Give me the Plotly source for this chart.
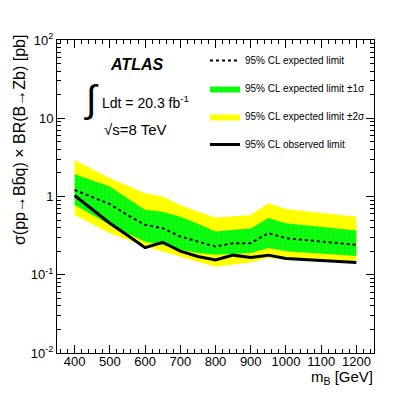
import plotly.graph_objects as go

# limits (pb)
mass = [400, 500, 550, 600, 650, 700, 750, 800, 850, 900, 950, 1000, 1200]
observed = [1.03, 0.456, 0.32, 0.222, 0.26, 0.20, 0.171, 0.155, 0.178, 0.166, 0.178, 0.161, 0.143]
expected = [1.21, 0.80, 0.58, 0.434, 0.394, 0.308, 0.265, 0.229, 0.253, 0.253, 0.34, 0.293, 0.241]
sig1_up = [1.93, 1.34, 0.95, 0.675, 0.64, 0.55, 0.45, 0.356, 0.375, 0.39, 0.53, 0.456, 0.367]
sig1_dn = [0.78, 0.434, 0.34, 0.265, 0.24, 0.208, 0.19, 0.18, 0.185, 0.19, 0.22, 0.20, 0.174]
sig2_up = [2.93, 1.71, 1.38, 1.10, 1.0, 0.78, 0.64, 0.54, 0.56, 0.58, 0.82, 0.69, 0.55]
sig2_dn = [0.58, 0.34, 0.28, 0.229, 0.20, 0.171, 0.147, 0.127, 0.135, 0.143, 0.165, 0.155, 0.147]

FONT = "Liberation Sans, Arial, sans-serif"

# plot area in page pixels: x 57-374, y 40-353 (page body has an 8px margin)
def px(x, y):
    return (x - 57) / 317, (353 - y) / 313

fig = go.Figure()

fig.add_trace(go.Scatter(
    x=mass + mass[::-1], y=sig2_up + sig2_dn[::-1],
    fill="toself", fillcolor="#ffff00", mode="lines", line=dict(width=0, color="#ffff00"),
    name="95% CL expected limit ±2σ", legendgroup="c", legendrank=3,
))
fig.add_trace(go.Scatter(
    x=mass + mass[::-1], y=sig1_up + sig1_dn[::-1],
    fill="toself", fillcolor="#00ff00", mode="lines", line=dict(width=0, color="#00ff00"),
    fillpattern=dict(shape=".", bgcolor="#00ff00", fgcolor="#55dd55", size=4, solidity=0.3),
    name="95% CL expected limit ±1σ", legendgroup="b", legendrank=2,
))
fig.add_trace(go.Scatter(
    x=mass, y=expected, mode="lines", line=dict(color="black", width=2, dash="dot"),
    name="95% CL expected limit", legendgroup="a", legendrank=1,
))
fig.add_trace(go.Scatter(
    x=mass, y=observed, mode="lines", line=dict(color="black", width=3),
    name="95% CL observed limit", legendgroup="d", legendrank=4,
))

ax = dict(
    showgrid=False, zeroline=False, showline=True, linecolor="black", linewidth=1,
    mirror="ticks", ticks="inside", ticklen=8, tickcolor="black", automargin=False,
    tickfont=dict(family=FONT, size=13, color="black"),
)
fig.update_xaxes(
    range=[350, 1250], tickvals=[400, 500, 600, 700, 800, 900, 1000, 1100, 1200],
    minor=dict(ticks="inside", ticklen=4, dtick=20, tick0=0, tickcolor="black"),
    ticklabelstandoff=-4,
    **ax,
)
fig.update_yaxes(
    type="log", range=[-2, 2],
    tickvals=[0.01, 0.1, 1, 10, 100],
    ticktext=["10<sup>-2</sup>", "10<sup>-1</sup>", "1", "10", "10<sup>2</sup>"],
    minor=dict(ticks="inside", ticklen=4, dtick="D1", tickcolor="black"),
    **ax,
)

annotations = []
x, y = px(374, 377)
annotations.append(dict(x=x, y=y, xanchor="right", yanchor="middle", borderpad=0,
                        text="m<sub>B</sub> [GeV]", font=dict(size=15)))
x, y = px(19, 33)
annotations.append(dict(x=x, y=y, xanchor="center", yanchor="top", textangle=-90,
                        text="σ(pp→Bb\u0304q) × BR(B→Zb) [pb]", font=dict(size=16)))
x, y = px(136, 64)
annotations.append(dict(x=x, y=y, xanchor="center", yanchor="middle",
                        text="<b><i>ATLAS</i></b>", font=dict(size=16)))
x, y = px(91, 99)
annotations.append(dict(x=x, y=y, xanchor="center", yanchor="middle",
                        text="∫", font=dict(size=38)))
x, y = px(100, 102)
annotations.append(dict(x=x, y=y, xanchor="left", yanchor="middle",
                        text="Ldt = 20.3 fb<sup>-1</sup>", font=dict(size=14)))
x, y = px(102, 129)
annotations.append(dict(x=x, y=y, xanchor="left", yanchor="middle",
                        text="√s=8 TeV", font=dict(size=15)))
for a in annotations:
    a.update(xref="paper", yref="paper", showarrow=False)
    a["font"].update(family=FONT, color="black")

lx, ly = px(205, 46)
fig.update_layout(
    width=391, height=378,
    margin=dict(l=49, r=25, t=32, b=33),
    paper_bgcolor="white", plot_bgcolor="white",
    font=dict(family=FONT, color="black"),
    annotations=annotations,
    legend=dict(x=lx, y=ly, xanchor="left", yanchor="top", bgcolor="rgba(0,0,0,0)",
                font=dict(family=FONT, size=10), tracegroupgap=9, itemwidth=30),
)

fig.write_html("out.html")
